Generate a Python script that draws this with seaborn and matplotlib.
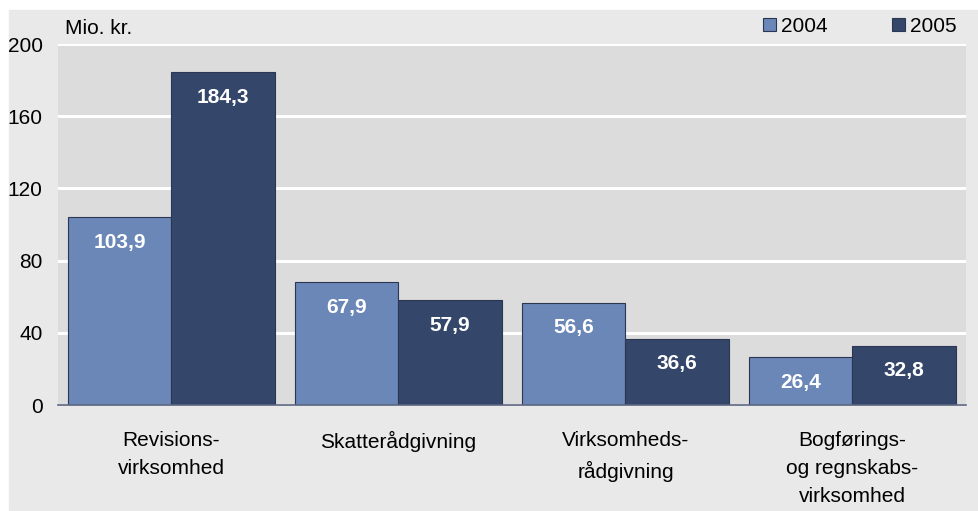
import matplotlib
matplotlib.use("Agg")
import matplotlib.pyplot as plt
from matplotlib.patches import Rectangle
import pandas as pd
import seaborn as sns

categories = ["Revisions-\nvirksomhed", "Skatterådgivning", "Virksomheds-\nrådgivning",
              "Bogførings-\nog regnskabs-\nvirksomhed"]
years = ["2004", "2005"]
values_2004 = [103.9, 67.9, 56.6, 26.4]
values_2005 = [184.3, 57.9, 36.6, 32.8]
yticks = [0, 40, 80, 120, 160, 200]

df = pd.DataFrame({
    "kategori": categories * 2,
    "aar": [years[0]] * 4 + [years[1]] * 4,
    "værdi": values_2004 + values_2005,
})

sns.set_theme(style="white")
plt.rcParams["font.family"] = ["Liberation Sans Narrow", "Liberation Sans", "DejaVu Sans"]
plt.rcParams["text.color"] = "black"
plt.rcParams["xtick.color"] = "black"
plt.rcParams["ytick.color"] = "black"

colors = {"2004": "#6b87b8", "2005": "#34466a"}

fig = plt.figure(figsize=(9.79, 5.11), dpi=100, facecolor="white")
# light panel behind everything
fig.patches.append(Rectangle((9 / 979, 1 / 511), 970 / 979, 500 / 511,
                             transform=fig.transFigure, color="#e9e9e9", zorder=-10))
ax = fig.add_axes([58 / 979, 106 / 511, 908 / 979, 361 / 511])
ax.set_facecolor("#dcdcdc")

sns.barplot(data=df, x="kategori", y="værdi", hue="aar", palette=colors,
            width=0.91, saturation=1, edgecolor="#2b3652", linewidth=0.8, ax=ax)

ax.set_ylim(0, 200)
ax.set_xlim(-0.5, 3.5)
ax.set_yticks(yticks)
ax.yaxis.grid(True, color="white", linewidth=2.2)
ax.set_axisbelow(True)
for s in ["top", "right", "left"]:
    ax.spines[s].set_visible(False)
ax.spines["bottom"].set_color("#5b6680")
ax.spines["bottom"].set_linewidth(1.2)
ax.set_xlabel("")
ax.set_ylabel("")
ax.tick_params(axis="y", length=0, pad=11, labelsize=15)
ax.tick_params(axis="x", length=0, pad=19, labelsize=15)
for lbl in ax.get_xticklabels():
    lbl.set_linespacing(1.6)
    lbl.set_va("top")

# value labels inside the bars
for cont, vals in zip(ax.containers, [values_2004, values_2005]):
    for bar, v in zip(cont, vals):
        ax.annotate(f"{v:.1f}".replace(".", ","),
                    (bar.get_x() + bar.get_width() / 2, v),
                    xytext=(0, -25), textcoords="offset pixels",
                    ha="center", va="center", color="white",
                    fontsize=15, fontweight="bold")

fig.text(65 / 979, 1 - 29 / 511, "Mio. kr.", fontsize=15, va="center", ha="left")

handles, labels = ax.get_legend_handles_labels()
ax.get_legend().remove()
fig.legend(handles, labels, loc="center right", bbox_to_anchor=(967 / 979, 1 - 26 / 511),
           ncol=2, frameon=False, fontsize=15, handlelength=0.6, handleheight=0.6,
           handletextpad=0.25, columnspacing=3.1, borderpad=0)

fig.savefig("out.png", dpi=100, facecolor="white")
